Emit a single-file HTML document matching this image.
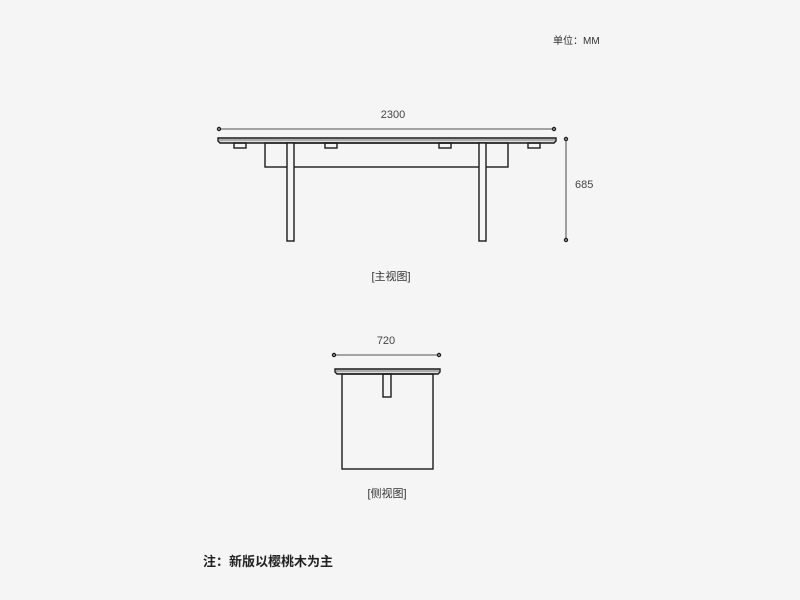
<!DOCTYPE html>
<html><head><meta charset="utf-8"><style>
body{margin:0;background:#f5f5f5;width:800px;height:600px;overflow:hidden;font-family:"Liberation Sans","Noto Sans CJK SC",sans-serif}
</style></head><body>
<svg width="800" height="600" xmlns="http://www.w3.org/2000/svg" style="position:absolute;left:0;top:0">
<g font-family="Liberation Sans, Noto Sans CJK SC, sans-serif" fill="#333">
<text x="553" y="44" font-size="10">单位：MM</text>
<text x="393" y="118" font-size="11" text-anchor="middle" fill="#444">2300</text>
<text x="575" y="188" font-size="11" fill="#444">685</text>
<text x="391" y="280" font-size="11" text-anchor="middle">[主视图]</text>
<text x="386" y="344" font-size="11" text-anchor="middle" fill="#444">720</text>
<text x="387" y="497" font-size="11" text-anchor="middle">[侧视图]</text>
<text x="203" y="566" font-size="13" font-weight="bold" fill="#222">注：新版以樱桃木为主</text>
</g>
<g stroke="#1a1a1a" stroke-width="1.4" fill="none">
<line x1="219" y1="129" x2="554" y2="129" stroke-width="0.8"/>
<circle cx="219" cy="129" r="1.5" fill="#f5f5f5"/><circle cx="554" cy="129" r="1.5" fill="#f5f5f5"/>
<line x1="566" y1="139" x2="566" y2="240" stroke-width="0.8"/>
<circle cx="566" cy="139" r="1.5" fill="#f5f5f5"/><circle cx="566" cy="240" r="1.5" fill="#f5f5f5"/>
<path d="M218 138 H556 V141 L554 143 H220 L218 141 Z" fill="#ddd"/>
<line x1="219" y1="140" x2="555" y2="140" stroke-width="0.6"/>
<rect x="234" y="143" width="12" height="5"/><rect x="325" y="143" width="12" height="5"/>
<rect x="439" y="143" width="12" height="5"/><rect x="528" y="143" width="12" height="5"/>
<rect x="265" y="143" width="243" height="24"/>
<rect x="287" y="143" width="7" height="98" fill="#f5f5f5"/>
<rect x="479" y="143" width="7" height="98" fill="#f5f5f5"/>
<line x1="334" y1="355" x2="439" y2="355" stroke-width="0.8"/>
<circle cx="334" cy="355" r="1.5" fill="#f5f5f5"/><circle cx="439" cy="355" r="1.5" fill="#f5f5f5"/>
<path d="M335 369 H440 V372 L438 374 H337 L335 372 Z" fill="#ddd"/>
<line x1="336" y1="371" x2="439" y2="371" stroke-width="0.6"/>
<rect x="342" y="374" width="91" height="95"/>
<rect x="383" y="374" width="8" height="23"/>
</g>
</svg>
</body></html>
